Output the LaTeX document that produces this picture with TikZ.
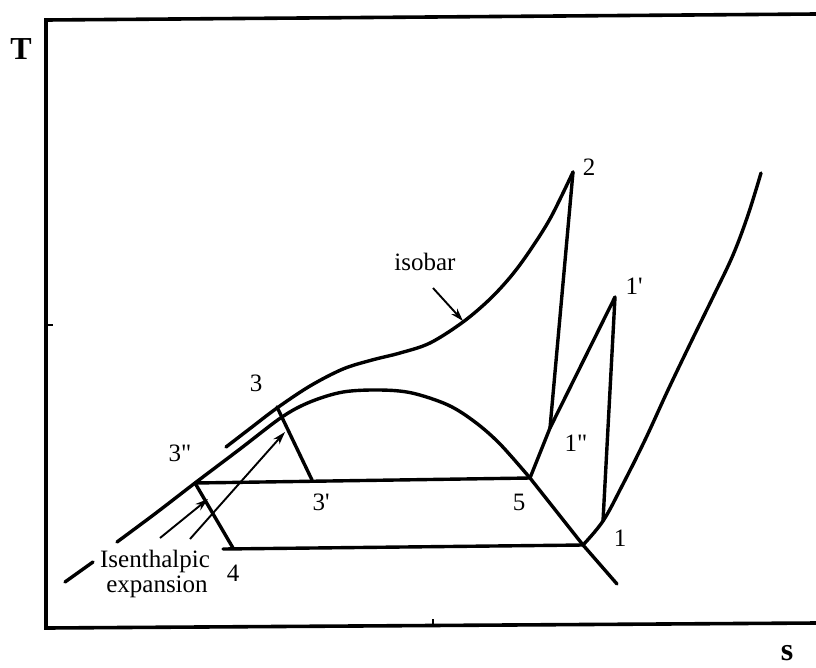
\documentclass[tikz,border=0pt]{standalone}
\usepackage{fontspec}
\setmainfont{Liberation Serif}
\usetikzlibrary{arrows.meta}
\begin{document}
\begin{tikzpicture}[x=1pt,y=-1pt,
  curve/.style={line width=3.4pt, line join=round, line cap=round},
  framestyle/.style={line width=3.6pt, line join=miter},
  tickstyle/.style={line width=2.2pt},
  arrowstyle/.style={line width=1.9pt, -{Stealth[length=13pt,width=8pt]}},
  lbl/.style={font=\fontsize{25}{30}\selectfont, inner sep=0pt},
  axlbl/.style={font=\fontsize{32}{36}\selectfont\bfseries, inner sep=0pt}]
\useasboundingbox (0,0) rectangle (816,667);

% frame (axes)
\coordinate (ftr) at (816,14);
\coordinate (ftl) at (46,20);
\coordinate (fbl) at (46,628);
\coordinate (fbr) at (816,623);
\draw[framestyle] (ftr) -- (ftl) -- (fbl) -- (fbr);
\coordinate (tya) at (46,325);  \coordinate (tyb) at (53,325);
\coordinate (txa) at (433,626); \coordinate (txb) at (433,619);
\draw[tickstyle] (tya) -- (tyb);
\draw[tickstyle] (txa) -- (txb);

\node[axlbl] (T) at (21,49) {T};
\node[axlbl] (S) at (787,653) {s};

% state points
\coordinate (p3pp) at (195,483);
\coordinate (p3)   at (277,407);
\coordinate (p3p)  at (312,480);
\coordinate (p4)   at (233,548);
\coordinate (p4s)  at (223,549);
\coordinate (p5)   at (530,478);
\coordinate (p1)   at (583,545);
\coordinate (p1pp) at (550,428);
\coordinate (p1p)  at (615,297);
\coordinate (p2)   at (573,172);
\coordinate (pq)   at (603,521);
\coordinate (domeend) at (617,584);
\coordinate (lowa) at (65,582);
\coordinate (lowb) at (93,562);

% saturation dome with its low-left extension
\draw[curve] (lowa) -- (lowb);
\draw[curve] plot[smooth, tension=0.55] coordinates {(117,542) (156,513) (195,483) (240,449) (282,417) (310,402) (343,392) (380,390) (412,393) (448,405) (475,422) (500,444) (530,478)};
\draw[curve] (p5) -- (p1) -- (domeend);

% high-pressure isobar
\draw[curve] plot[smooth, tension=0.55] coordinates {(226,447) (252,427) (277,408) (310,386) (343,369) (372,360) (400,353) (430,343) (463,322) (490,299) (512,275) (531,249) (551,217) (573,172)};

% low-pressure isobar on the vapour side
\draw[curve] plot[smooth, tension=0.6] coordinates {(583,545) (603,521) (622,486) (645,440) (668,390) (692,340) (714,295) (733,255) (748,215) (761,173)};

% process lines
\draw[curve] (p2) -- (p1pp);
\draw[curve] (p5) -- (p1pp) -- (p1p) -- (pq);
\draw[curve] (p3) -- (p3p);
\draw[curve] (p3pp) -- (p5);
\draw[curve] (p3pp) -- (p4);
\draw[curve] (p4s) -- (p1);

% labels
\node[lbl] (l2)   at (589,167) {2};
\node[lbl] (l1p)  at (634,286) {1\textquotesingle};
\node[lbl] (l1pp) at (576,443) {1\textquotedbl};
\node[lbl] (l5)   at (519,502) {5};
\node[lbl] (l1)   at (620,538) {1};
\node[lbl] (l3)   at (256,383) {3};
\node[lbl] (l3pp) at (180,453) {3\textquotedbl};
\node[lbl] (l3p)  at (321,502) {3\textquotesingle};
\node[lbl] (l4)   at (233,573) {4};
\node[lbl] (liso) at (425,262) {isobar};
\node[lbl] (lisen) at (155,561) {Isenthalpic};
\node[lbl] (lexp)  at (157,587) {expansion};

% arrows
\coordinate (ia) at (433,288); \coordinate (ib) at (463,321);
\draw[arrowstyle] (ia) -- (ib);
\coordinate (ea) at (160,538); \coordinate (eb) at (208,499);
\draw[arrowstyle] (ea) -- (eb);
\coordinate (fa) at (190,539); \coordinate (fb) at (285,432);
\draw[arrowstyle] (fa) -- (fb);
\end{tikzpicture}
\end{document}
